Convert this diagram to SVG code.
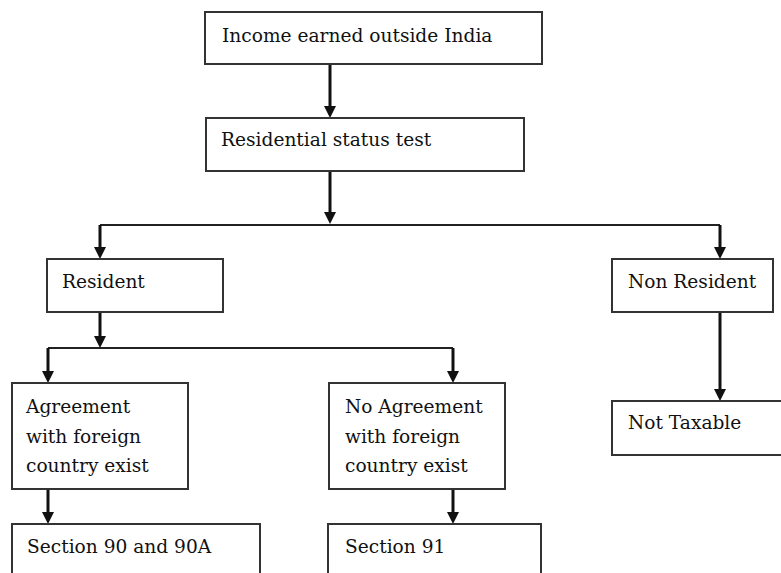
<svg xmlns="http://www.w3.org/2000/svg" width="781" height="573" viewBox="0 0 781 573">
<style>
.box{fill:#fff;stroke:#333;stroke-width:2}
.t{font-family:'DejaVu Serif',serif;font-size:18.6px;fill:#111}
.arr{stroke:#111;stroke-width:3;fill:none}
.ln{stroke:#222;stroke-width:2;fill:none}
.hd{fill:#111}
</style>
<rect width="781" height="573" fill="#fff"/>
<g id="connectors">
<line class="ln" x1="100" y1="225" x2="720" y2="225"/>
<line class="ln" x1="48" y1="348" x2="453" y2="348"/>
<line class="arr" x1="330" y1="64" x2="330" y2="106"/>
<path class="hd" d="M324,106 L336,106 L330,118 Z"/>
<line class="arr" x1="330" y1="171" x2="330" y2="213"/>
<path class="hd" d="M324,212 L336,212 L330,224 Z"/>
<line class="arr" x1="100" y1="225" x2="100" y2="247"/>
<path class="hd" d="M94,247 L106,247 L100,259 Z"/>
<line class="arr" x1="720" y1="225" x2="720" y2="247"/>
<path class="hd" d="M714,247 L726,247 L720,259 Z"/>
<line class="arr" x1="100" y1="312" x2="100" y2="336"/>
<path class="hd" d="M94,336 L106,336 L100,348 Z"/>
<line class="arr" x1="48" y1="348" x2="48" y2="371"/>
<path class="hd" d="M42,371 L54,371 L48,383 Z"/>
<line class="arr" x1="453" y1="348" x2="453" y2="371"/>
<path class="hd" d="M447,371 L459,371 L453,383 Z"/>
<line class="arr" x1="48" y1="489" x2="48" y2="512"/>
<path class="hd" d="M42,512 L54,512 L48,524 Z"/>
<line class="arr" x1="453" y1="489" x2="453" y2="512"/>
<path class="hd" d="M447,512 L459,512 L453,524 Z"/>
<line class="arr" x1="720" y1="312" x2="720" y2="389"/>
<path class="hd" d="M714,389 L726,389 L720,401 Z"/>
</g>
<g id="income"><rect class="box" x="205" y="12" width="337" height="52"/><text class="t" x="222" y="42">Income earned outside India</text></g>
<g id="residential"><rect class="box" x="206" y="118" width="318" height="53"/><text class="t" x="221" y="146">Residential status test</text></g>
<g id="resident"><rect class="box" x="47" y="259" width="176" height="53"/><text class="t" x="62" y="288">Resident</text></g>
<g id="nonresident"><rect class="box" x="612" y="259" width="161" height="53"/><text class="t" x="628" y="288">Non Resident</text></g>
<g id="nottaxable"><rect class="box" x="612" y="401" width="180" height="54"/><text class="t" x="628" y="429">Not Taxable</text></g>
<g id="agreement"><rect class="box" x="12" y="383" width="176" height="106"/><text class="t"><tspan x="26" y="413">Agreement</tspan><tspan x="26" y="443">with foreign</tspan><tspan x="26" y="472">country exist</tspan></text></g>
<g id="noagreement"><rect class="box" x="329" y="383" width="176" height="106"/><text class="t"><tspan x="345" y="413">No Agreement</tspan><tspan x="345" y="443">with foreign</tspan><tspan x="345" y="472">country exist</tspan></text></g>
<g id="section90"><rect class="box" x="12" y="524" width="248" height="60"/><text class="t" x="27" y="553">Section 90 and 90A</text></g>
<g id="section91"><rect class="box" x="328" y="524" width="213" height="60"/><text class="t" x="345" y="553">Section 91</text></g>
</svg>
